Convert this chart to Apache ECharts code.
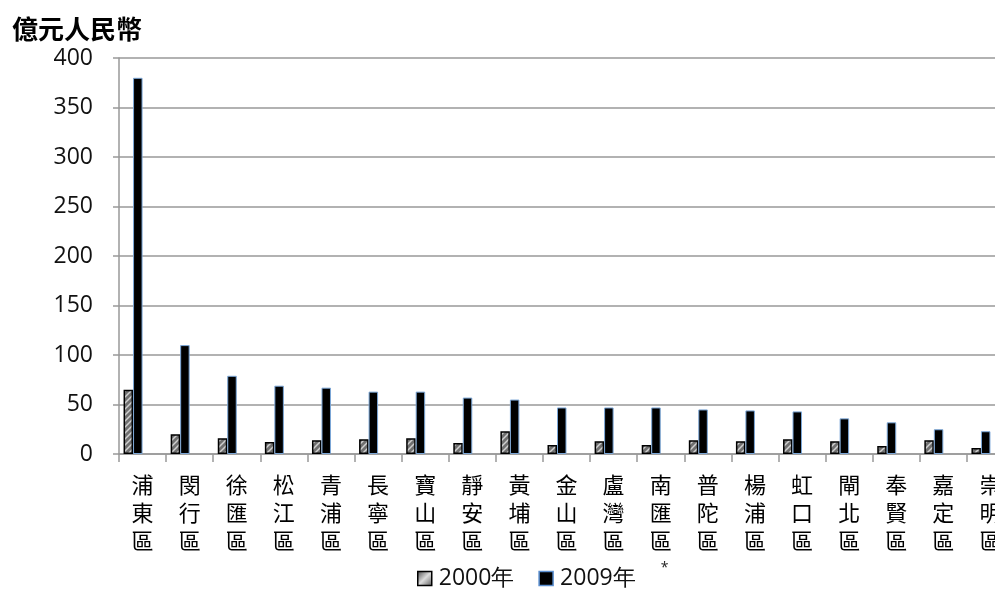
<!DOCTYPE html>
<html>
<head>
<meta charset="utf-8">
<script src="https://cdn.jsdelivr.net/npm/echarts@6/dist/echarts.min.js"></script>
<style>
html, body { margin: 0; padding: 0; background: #fff; }
#main { width: 995px; height: 593px; }
</style>
</head>
<body>
<div id="main"></div>
<script>
// 各區數據（億元人民幣）
var districts = ['浦東區', '閔行區', '徐匯區', '松江區', '青浦區', '長寧區', '寶山區', '靜安區', '黃埔區', '金山區',
                 '盧灣區', '南匯區', '普陀區', '楊浦區', '虹口區', '閘北區', '奉賢區', '嘉定區', '崇明區'];
var values2000 = [65, 20, 16, 12, 14, 15, 16, 11, 23, 9, 13, 9, 14, 13, 15, 13, 8, 14, 6];
var values2009 = [380, 110, 79, 69, 67, 63, 63, 57, 55, 47, 47, 47, 45, 44, 43, 36, 32, 25, 23];
var yTicks = [0, 50, 100, 150, 200, 250, 300, 350, 400];

// 斜線花紋
var pat = document.createElement('canvas');
pat.width = 6; pat.height = 6;
var ctx = pat.getContext('2d');
ctx.fillStyle = '#707070';
ctx.fillRect(0, 0, 6, 6);
ctx.strokeStyle = '#cfcfcf';
ctx.lineWidth = 1.5;
ctx.beginPath();
ctx.moveTo(0, 6); ctx.lineTo(6, 0);
ctx.moveTo(-3, 3); ctx.lineTo(3, -3);
ctx.moveTo(3, 9); ctx.lineTo(9, 3);
ctx.stroke();

var myChart = echarts.init(document.getElementById('main'));

var option = {
    animation: false,
    title: {
        text: '億元人民幣',
        left: 7, top: 11,
        textStyle: { fontFamily: 'Noto Sans CJK TC', fontWeight: 'bold', fontSize: 26, color: '#000' }
    },
    legend: {
        data: [
            { name: '2000年', itemStyle: { color: new echarts.graphic.LinearGradient(0, 0, 1, 1, [
                { offset: 0, color: '#444' }, { offset: 0.5, color: '#ddd' }, { offset: 1, color: '#555' }]),
                borderColor: '#000', borderWidth: 1.5 } },
            { name: '2009年', itemStyle: { color: '#000', borderColor: '#5b8fd0', borderWidth: 1.5 } }
        ],
        top: 567, left: 417, padding: 0,
        itemWidth: 14, itemHeight: 14, itemGap: 24,
        icon: 'rect',
        textStyle: { fontFamily: 'Open Sans', fontSize: 23, color: '#111', padding: [0, 0, 0, 2] }
    },
    grid: { left: 119, top: 58, bottom: 139, width: 895, outerBoundsMode: 'none' },
    xAxis: {
        type: 'category',
        data: districts,
        axisLine: { lineStyle: { color: '#999', width: 1.5 } },
        axisTick: { show: true, length: 8, lineStyle: { color: '#999', width: 1.5 } },
        axisLabel: {
            interval: 0, margin: 17, lineHeight: 28,
            fontFamily: 'Noto Sans CJK TC', fontSize: 22, color: '#000',
            formatter: function (v) {
                var s = v.split('').join('\n');
                if (v === '南匯區') s += '\n{s|*}';
                return s;
            },
            rich: { s: { fontSize: 14, lineHeight: 26, color: '#222', fontFamily: 'Open Sans', padding: [0, 0, 0, 8] } }
        }
    },
    yAxis: {
        type: 'value',
        min: 0, max: 400, interval: 50,
        axisLine: { show: true, lineStyle: { color: '#999', width: 1.5 } },
        axisTick: { show: true, length: 6, lineStyle: { color: '#999', width: 1.5 } },
        splitLine: { lineStyle: { color: '#999', width: 1.5 } },
        axisLabel: { fontFamily: 'Open Sans', fontSize: 23, color: '#111', margin: 26 }
    },
    series: [
        {
            name: '2000年', type: 'bar', data: values2000,
            barWidth: 9.5, barGap: '0%',
            itemStyle: { color: { image: pat, repeat: 'repeat' }, borderColor: '#000', borderWidth: 1.5 }
        },
        {
            name: '2009年', type: 'bar', data: values2009,
            barWidth: 9.5,
            itemStyle: { color: '#000', borderColor: '#7ba7d8', borderWidth: 1 }
        },
        { name: 'pad1', type: 'bar', data: [], barWidth: 9.5 },
        { name: 'pad2', type: 'bar', data: [], barWidth: 9.5 }
    ]
};

myChart.setOption(option);
</script>
</body>
</html>
